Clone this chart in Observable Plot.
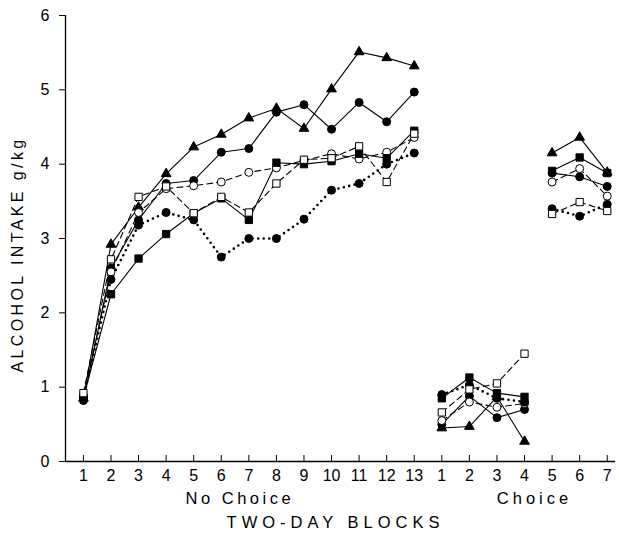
<!DOCTYPE html>
<html><head><meta charset="utf-8">
<script src="https://cdn.jsdelivr.net/npm/d3@7"></script>
<script src="https://cdn.jsdelivr.net/npm/@observablehq/plot@0.6"></script>
<style>
body{margin:0;background:#fff;}
#chart svg{font-family:"Liberation Sans",Arial,sans-serif;}
</style>
</head><body><div id="chart"></div>
<script>
// x positions: 13 "No Choice" blocks followed by 7 "Choice" blocks
const blockLabels = ["1","2","3","4","5","6","7","8","9","10","11","12","13","1","2","3","4","5","6","7"];
const blockSegment = [0,0,0,0,0,0,0,0,0,0,0,0,0,1,1,1,1,2,2,2];
const yTicks = [0,1,2,3,4,5,6];

// series values (g/kg), one per block
const triangleSolid   = [0.85,2.92,3.42,3.87,4.23,4.40,4.62,4.75,4.48,5.01,5.51,5.43,5.32, 0.45,0.47,0.87,0.27, 4.15,4.36,3.89];
const circleSolid     = [0.82,2.60,3.25,3.74,3.78,4.16,4.21,4.70,4.80,4.47,4.83,4.57,4.97, 0.50,0.88,0.59,0.70, 3.88,3.83,3.70];
const openCircleDash  = [0.88,2.55,3.35,3.67,3.71,3.76,3.89,3.95,4.05,4.14,4.07,4.16,4.36, 0.55,0.80,0.73,0.78, 3.76,3.94,3.57];
const squareSolid     = [0.86,2.25,2.73,3.06,3.34,3.54,3.25,4.02,4.00,4.04,4.14,4.08,4.45, 0.85,1.13,0.92,0.87, 3.91,4.09,3.88];
const circleDotted    = [0.86,2.45,3.18,3.35,3.25,2.75,3.00,3.00,3.26,3.65,3.74,4.00,4.15, 0.90,1.03,0.85,0.80, 3.40,3.30,3.46];
const openSquareDash  = [0.92,2.72,3.56,3.70,3.34,3.56,3.35,3.74,4.06,4.08,4.24,3.76,4.41, 0.66,0.97,1.05,1.45, 3.33,3.49,3.37];

const seriesDefs = [
  {name:"triangleSolid",  values:triangleSolid,  symbol:"triangle", fill:"black", line:"solid"},
  {name:"circleSolid",    values:circleSolid,    symbol:"circle",   fill:"black", line:"solid"},
  {name:"openCircleDash", values:openCircleDash, symbol:"circle",   fill:"white", line:"dash"},
  {name:"squareSolid",    values:squareSolid,    symbol:"square",   fill:"black", line:"solid"},
  {name:"circleDotted",   values:circleDotted,   symbol:"circle",   fill:"black", line:"dot"},
  {name:"openSquareDash", values:openSquareDash, symbol:"square",   fill:"white", line:"dash"}
];

const rows = [];
seriesDefs.forEach(s => s.values.forEach((v, i) => rows.push({
  series: s.name, i: i + 1, v, z: s.name + "-" + blockSegment[i]
})));

const idx = blockLabels.map((_, i) => i + 1);
const xMin = 0.35, xMax = 20.3;

const lineStyle = {
  solid: {strokeWidth: 1.1},
  dash:  {strokeWidth: 1.1, strokeDasharray: "6,4"},
  dot:   {strokeWidth: 2.6, strokeDasharray: "0,5.5", strokeLinecap: "round"}
};
const symbolR = {circle: 4, square: 4.1, triangle: 3.6};

const marks = [
  Plot.ruleY([0], {stroke: "black", strokeWidth: 1.3}),
  Plot.ruleX([xMin], {stroke: "black", strokeWidth: 1.3}),
  Plot.axisY({ticks: yTicks, tickFormat: d => String(d), tickSize: 6, tickPadding: 10, fontSize: 16, label: null}),
  Plot.axisX({ticks: idx, tickFormat: i => blockLabels[i - 1], tickSize: -6, tickPadding: 14, fontSize: 16, label: null}),
  ...seriesDefs.map(s => Plot.line(rows.filter(r => r.series === s.name),
      {x: "i", y: "v", z: "z", stroke: "black", ...lineStyle[s.line]})),
  ...seriesDefs.map(s => Plot.dot(rows.filter(r => r.series === s.name),
      {x: "i", y: "v", symbol: s.symbol, fill: s.fill, stroke: "black", strokeWidth: 1, r: symbolR[s.symbol]})),
  Plot.text(["No Choice"], {x: 7, frameAnchor: "bottom", dy: 42, dx: -9, fontSize: 16.5, text: d => d}),
  Plot.text(["Choice"], {x: 17, frameAnchor: "bottom", dy: 42, dx: 10, fontSize: 16.5, text: d => d}),
  Plot.text(["TWO-DAY BLOCKS"], {frameAnchor: "bottom", dy: 66, dx: -5, fontSize: 16.5, text: d => d}),
  Plot.text(["ALCOHOL INTAKE g/kg"], {frameAnchor: "left", textAnchor: "middle", dx: -48, dy: 16, rotate: -90, fontSize: 16, text: d => d})
];

const chart = Plot.plot({
  width: 619, height: 539,
  marginLeft: 65, marginRight: 4, marginTop: 15, marginBottom: 78,
  x: {domain: [xMin, xMax]},
  y: {domain: [0, 6]},
  style: {fontFamily: "'Liberation Sans', Arial, sans-serif", color: "black", background: "white", overflow: "visible"},
  marks
});
const spacing = {"No Choice": "3.5px", "Choice": "4px", "TWO-DAY BLOCKS": "5px", "ALCOHOL INTAKE g/kg": "3.4px"};
d3.select(chart).selectAll("text").each(function() {
  const t = this.textContent;
  if (spacing[t]) this.setAttribute("letter-spacing", spacing[t]);
});
document.getElementById("chart").appendChild(chart);
</script>
</body></html>
